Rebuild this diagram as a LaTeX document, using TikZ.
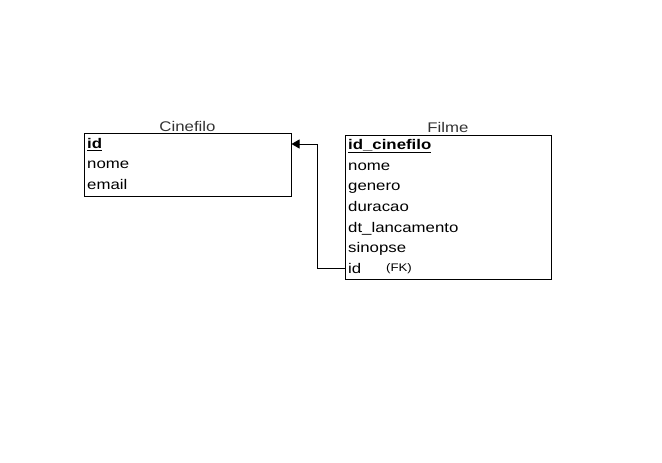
\documentclass[tikz,border=0pt]{standalone}
\usepackage{fontspec}
\setmainfont[FakeStretch=1.2]{Liberation Sans}
\usetikzlibrary{arrows.meta}

\tikzset{
  tablebox/.style={draw,line width=1pt,inner sep=0pt},
  row/.style={anchor=west,inner sep=0pt,text height=10pt,text depth=3pt,
    font=\fontsize{14}{16}\selectfont},
  title/.style={inner sep=0pt,text=black!80,font=\fontsize{14}{16}\selectfont},
  fk/.style={anchor=west,inner sep=0pt,font=\fontsize{11}{13}\selectfont}
}

\begin{document}
\begin{tikzpicture}[x=1pt,y=1pt]
        \useasboundingbox (0, 0) rectangle (662, -463);
        % tables
        \node[tablebox,minimum width=207pt,minimum height=63pt] (cinefilo) at (187.5, -164.5) {};
        \node[tablebox,minimum width=206pt,minimum height=144pt] (filme) at (448, -207) {};
        \node[title] (tcinefilo) at (187.5, -126) {Cinefilo};
        \node[title] (tfilme) at (448, -127) {Filme};
        % Cinefilo
        \node[row] (cid) at (87, -145) {\textbf{\underline{id}}};
        \node[row] (cnome) at (87, -165) {nome};
        \node[row] (cemail) at (87, -186) {email};
        % Filme
        \node[row] (fidcin) at (348, -146) {\textbf{\underline{id\_cinefilo}}};
        \node[row] (fnome) at (348, -167) {nome};
        \node[row] (fgenero) at (348, -187) {genero};
        \node[row] (fduracao) at (348, -208) {duracao};
        \node[row] (fdt) at (348, -229) {dt\_lancamento};
        \node[row] (fsinopse) at (348, -249) {sinopse};
        \node[row] (fid) at (348, -270) {id};
        \node[fk] (ffk) at (386, -269) {(FK)};
        % relation
        \draw[line width=1pt,-{Triangle[length=8pt,width=9pt]}] (filme.west |- fid) ++(0, 2) -- ++(-27, 0) |- ([yshift=1pt]cinefilo.east |- cid);
      \end{tikzpicture}
\end{document}
